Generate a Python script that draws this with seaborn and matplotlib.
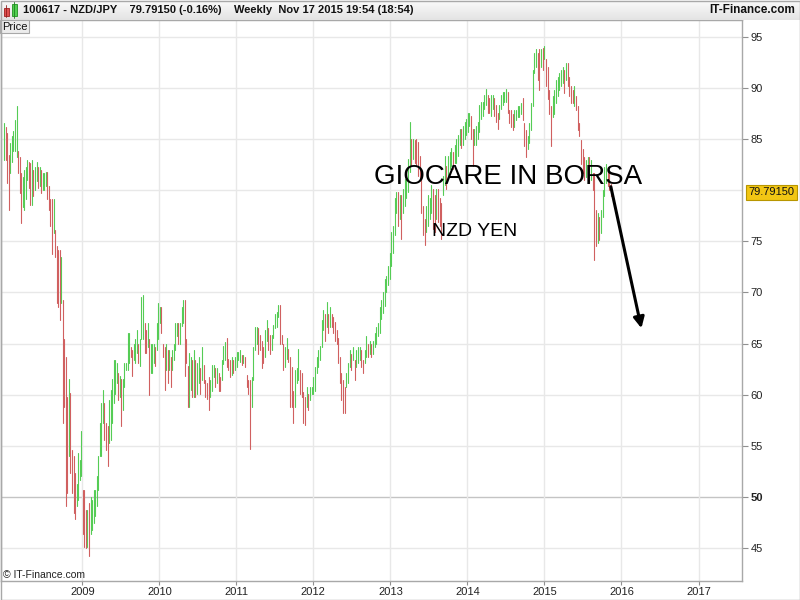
import numpy as np
import pandas as pd
import matplotlib
matplotlib.use("Agg")
import matplotlib.pyplot as plt
import matplotlib.dates as mdates
from matplotlib.patches import Rectangle
import seaborn as sns

# ---------------- data (weekly high / low) ----------------
HIGH_A = [86.6, 86.2, 85.6, 83.5, 84.6, 85.3, 85.8, 86.9, 88.2, 83.8,
          83.3, 81.7, 81.3, 82.0, 82.3, 83.0, 82.8, 82.7, 83.0, 82.0,
          82.3, 82.8, 82.3, 82.3, 82.0, 81.7, 81.7, 81.8, 81.8, 80.4,
          79.1, 79.1, 79.1, 76.1, 74.5, 74.2, 74.2, 73.5, 69.3, 65.4,
          63.7, 59.8, 61.5, 60.2, 54.6, 54.0, 52.3, 51.3, 54.3, 53.6,
          56.4, 50.7, 50.7, 48.7, 48.7, 49.4, 50.0, 49.7, 50.7, 50.7,
          52.0, 54.0, 57.2, 59.2, 60.5, 59.2, 57.2, 56.9, 59.5, 60.5,
          61.5, 63.4, 63.4, 63.1, 62.1, 61.8, 61.5, 61.5, 63.1, 63.1,
          66.0, 66.0, 64.7, 64.4, 65.0, 65.4, 66.3, 65.0, 65.4, 69.6,
          69.8, 67.0, 66.3, 67.0, 65.4, 65.0, 65.0, 65.0, 64.7, 67.0,
          69.0, 68.6, 68.6, 65.0, 64.7, 65.0, 64.4, 64.4, 63.7, 64.4,
          65.0, 67.0, 67.0, 67.0, 67.0, 68.6, 69.3, 69.3, 65.4, 62.8,
          64.1, 63.7, 63.4, 64.4, 63.4]
LOW_A = [83.0, 83.0, 80.7, 78.1, 81.7, 82.8, 83.8, 83.8, 83.3, 81.7,
         79.7, 76.8, 78.4, 78.1, 79.1, 81.0, 80.2, 78.6, 78.6, 79.4,
         80.0, 80.9, 80.2, 80.4, 79.7, 80.0, 80.0, 80.4, 79.1, 78.1,
         76.5, 73.8, 75.8, 73.5, 69.0, 68.6, 67.3, 69.0, 57.2, 58.8,
         49.1, 50.4, 54.0, 52.3, 50.4, 48.4, 47.8, 49.1, 49.7, 51.7,
         52.0, 46.4, 45.1, 45.0, 45.1, 44.2, 46.4, 46.8, 47.4, 48.1,
         49.1, 50.7, 54.0, 54.0, 57.2, 55.6, 54.6, 53.0, 55.3, 55.6,
         57.2, 59.2, 60.1, 61.1, 59.5, 59.8, 56.9, 58.5, 60.8, 62.4,
         62.4, 63.1, 63.7, 61.8, 63.4, 63.1, 64.1, 63.1, 62.8, 65.4,
         65.4, 64.1, 64.1, 64.7, 60.0, 62.1, 62.1, 63.1, 62.8, 64.4,
         65.4, 67.0, 66.0, 63.7, 60.5, 62.4, 61.1, 62.4, 60.8, 62.4,
         63.4, 64.4, 65.7, 65.0, 65.0, 66.7, 67.0, 61.8, 63.1, 58.8,
         58.8, 60.5, 59.8, 59.8, 59.8]

HIGH_B = [63.1, 63.7, 62.6, 64.7, 62.9, 61.4, 61.1, 61.7, 61.4, 62.9,
          62.9, 62.6, 62.6, 62.1, 61.7, 63.4, 64.8, 65.2, 65.5, 63.5,
          63.4, 63.7, 63.4, 63.7, 64.2, 64.2, 64.4, 63.9, 63.9, 63.7,
          61.9, 61.4, 61.4, 61.7, 64.7, 66.6, 66.6, 66.5, 65.8, 65.3,
          64.7, 66.3, 67.3, 66.5, 65.8, 65.8, 66.8, 67.9, 68.1, 68.8,
          68.8, 65.8, 65.0, 64.7, 65.5, 64.5, 63.7, 62.7, 60.4, 62.4,
          62.6, 64.5, 62.4, 62.1, 60.3, 59.8, 60.8, 60.1, 60.8, 60.8,
          61.7, 62.7, 63.7, 64.4, 64.8, 67.3, 68.3, 67.9, 69.1, 67.9,
          68.6, 67.9, 67.6, 67.1, 66.3, 65.5, 63.7, 62.1, 61.4, 60.8,
          62.1, 63.1, 64.4, 64.0, 64.7, 63.4, 64.4, 64.7, 64.7, 64.4,
          63.4, 64.4, 65.7, 65.0, 65.3, 65.0, 65.3, 66.0, 66.6, 67.0,
          68.6]
LOW_B = [60.1, 61.1, 60.1, 61.4, 61.1, 59.8, 59.6, 58.5, 59.8, 60.4,
         61.7, 60.8, 61.1, 60.4, 60.4, 61.4, 63.0, 63.4, 62.7, 62.4,
         61.7, 61.9, 62.1, 62.4, 62.7, 63.4, 63.2, 62.9, 63.1, 62.7,
         60.8, 60.1, 54.7, 58.8, 61.4, 64.4, 65.0, 64.0, 64.4, 62.6,
         63.1, 63.7, 65.3, 64.4, 64.0, 64.4, 65.5, 66.5, 66.6, 67.6,
         65.0, 65.0, 62.4, 62.7, 63.5, 63.2, 58.8, 58.8, 57.2, 58.8,
         61.1, 61.4, 60.1, 59.8, 57.2, 57.0, 58.8, 58.5, 59.5, 60.1,
         60.1, 60.4, 62.1, 62.7, 63.4, 64.7, 66.3, 65.3, 66.6, 66.0,
         66.6, 66.6, 66.0, 65.3, 65.0, 63.1, 61.1, 59.5, 58.2, 58.2,
         60.8, 61.1, 62.7, 62.4, 63.4, 61.4, 62.7, 63.1, 63.4, 62.7,
         62.1, 63.1, 63.7, 63.7, 64.0, 63.7, 64.0, 64.7, 65.0, 65.7,
         66.0]

HIGH_C = [69.3, 70.0, 71.3, 71.6, 72.6, 73.9, 75.9, 76.5, 79.2, 79.8,
          79.8, 79.5, 79.5, 80.1, 81.1, 81.8, 83.1, 86.7, 85.0, 85.0,
          84.9, 85.0, 84.7, 83.4, 81.8, 78.5, 77.2, 78.5, 79.5, 79.2,
          80.5, 80.1, 79.5, 80.1, 80.1, 79.2, 78.8, 81.4, 83.4, 82.4,
          83.4, 83.7, 84.1, 83.7, 84.4, 85.0, 85.4, 86.0, 86.0, 86.3,
          86.7, 87.0, 87.6, 87.6, 87.3, 86.0, 86.0, 86.3, 86.7, 88.3,
          88.6, 88.6, 89.3, 89.9, 89.3, 89.0, 89.3, 89.3, 89.0, 88.3,
          87.6, 88.3, 89.3, 89.6, 89.6, 89.9, 89.6]
LOW_C = [67.4, 68.0, 68.7, 70.0, 70.7, 71.3, 72.6, 73.9, 75.6, 77.8,
         76.5, 77.2, 75.2, 77.8, 78.5, 79.2, 79.8, 81.8, 82.4, 83.1,
         82.7, 82.4, 81.4, 81.1, 77.8, 75.6, 74.6, 75.9, 76.5, 77.2,
         77.8, 76.2, 75.9, 77.2, 76.9, 76.5, 75.2, 79.5, 80.5, 80.1,
         81.1, 82.1, 82.4, 82.1, 82.7, 82.7, 83.4, 84.4, 84.1, 84.4,
         85.0, 85.4, 85.7, 86.3, 85.0, 82.4, 84.4, 84.4, 85.0, 85.7,
         87.0, 87.3, 88.0, 88.3, 87.6, 87.6, 87.3, 88.0, 87.3, 86.7,
         86.0, 87.0, 88.0, 88.3, 88.6, 88.6, 87.6]

HIGH_D = [87.9, 87.9, 87.5, 87.9, 87.9, 88.2, 88.2, 88.5, 89.0, 86.6,
          85.9, 85.3, 86.6, 88.5, 91.8, 93.4, 93.8, 93.4, 93.8, 93.8,
          93.9, 94.1, 92.8, 92.1, 89.8, 88.2, 89.2, 89.8, 90.8, 91.1,
          91.5, 91.8, 92.1, 91.8, 92.5, 92.5, 91.1, 90.2, 89.8, 90.2,
          89.2, 88.2, 86.6, 84.9, 84.0, 83.3, 83.0, 83.3, 83.3, 83.0,
          81.7, 81.7, 78.1, 77.8, 77.4, 78.1, 80.0, 82.3, 82.6, 82.3,
          81.7, 80.6]
LOW_D = [86.6, 86.2, 85.9, 86.2, 86.9, 87.2, 87.2, 87.5, 86.9, 84.3,
         83.3, 84.0, 84.6, 85.9, 88.2, 91.5, 92.1, 90.8, 89.8, 92.1,
         91.8, 92.8, 90.2, 88.9, 87.5, 84.3, 87.2, 87.5, 88.5, 89.2,
         89.8, 90.2, 90.5, 89.5, 90.8, 90.2, 89.2, 88.5, 88.5, 88.2,
         87.9, 85.9, 85.3, 82.6, 81.7, 81.0, 81.3, 81.7, 80.7, 81.0,
         80.0, 73.2, 74.5, 74.8, 75.1, 75.8, 77.4, 79.4, 80.7, 80.4,
         80.0, 79.4]

SEGMENT_DATES = [("2007-12-27", "2010-06-21"),
                 ("2010-06-28", "2012-11-11"),
                 ("2012-11-19", "2014-07-11"),
                 ("2014-07-19", "2015-11-13")]

Y_TICKS = [45, 50, 55, 60, 65, 70, 75, 80, 85, 90, 95]
X_YEARS = [2009, 2010, 2011, 2012, 2013, 2014, 2015, 2016, 2017]
LAST_PRICE = 79.79150
HEADER = "100617 - NZD/JPY    79.79150 (-0.16%)    Weekly  Nov 17 2015 19:54 (18:54)"

# ---------------- build table ----------------
highs = [HIGH_A, HIGH_B, HIGH_C, HIGH_D]
lows = [LOW_A, LOW_B, LOW_C, LOW_D]
dates, hi_all, lo_all = [], [], []
for (s, e), h, l in zip(SEGMENT_DATES, highs, lows):
    dates.extend(pd.date_range(s, e, periods=len(h)))
    hi_all.extend(h)
    lo_all.extend(l)
hi_all = np.array(hi_all)
lo_all = np.array(lo_all)
mid = (hi_all + lo_all) / 2
direction = ["up"] + ["up" if mid[i] >= mid[i - 1] else "down" for i in range(1, len(mid))]

rows = []
for i, d in enumerate(dates):
    rows.append({"bar": i, "date": d, "price": lo_all[i], "dir": direction[i]})
    rows.append({"bar": i, "date": d, "price": hi_all[i], "dir": direction[i]})
df = pd.DataFrame(rows)

# ---------------- figure ----------------
sns.set_style("white")
plt.rcParams["font.family"] = ["Liberation Sans", "DejaVu Sans"]

W, H = 800, 600
fig = plt.figure(figsize=(8, 6), dpi=100)
fig.patch.set_facecolor("white")

ax = fig.add_axes([1 / W, (H - 581) / H, 741 / W, 561 / H])
ax.set_facecolor("white")

# grid
for yv in Y_TICKS:
    ax.axhline(yv, color="#c4c4c4" if yv == 50 else "#e8e8e8", lw=1.0, zorder=0)
for yr in X_YEARS:
    ax.axvline(mdates.date2num(pd.Timestamp(f"{yr}-01-01")), color="#e8e8e8", lw=1.0, zorder=0)

sns.lineplot(data=df, x="date", y="price", units="bar", estimator=None,
             hue="dir", palette={"up": "#55cc55", "down": "#d06060"},
             lw=0.8, legend=False, ax=ax, sort=False)

ax.set_xlim(mdates.date2num(pd.Timestamp("2007-12-12")), mdates.date2num(pd.Timestamp("2017-07-26")))
ax.set_ylim(41.77, 96.66)
ax.set_xlabel("")
ax.set_ylabel("")

# the 80 level is covered by the last-price label, as in the original
ax.yaxis.tick_right()
shown_ticks = [v for v in Y_TICKS if v != 80]
ax.set_yticks(shown_ticks)
ax.set_yticklabels([str(v) for v in shown_ticks])
for lab in ax.get_yticklabels():
    if lab.get_text() == "50":
        lab.set_fontweight("bold")
        lab.set_fontsize(9)
ax.set_xticks([mdates.date2num(pd.Timestamp(f"{yr}-01-01")) for yr in X_YEARS])
ax.set_xticklabels([str(y) for y in X_YEARS])
ax.tick_params(axis="y", which="both", right=True, left=False, length=4, width=0.8,
               color="#909090", labelsize=8, pad=2, labelcolor="#222222")
ax.tick_params(axis="x", which="both", bottom=True, length=3, width=0.8,
               color="#909090", labelsize=8, pad=1.5, labelcolor="#222222")
for sp in ax.spines.values():
    sp.set_color("#a8a8a8")
    sp.set_linewidth(1.0)

# last price label
ax.text(1.009, LAST_PRICE, "79.79150", transform=ax.get_yaxis_transform(),
        ha="left", va="center", fontsize=8, color="#111111",
        bbox=dict(boxstyle="square,pad=0.2", fc="#f2c614", ec="#b89600", lw=0.8),
        clip_on=False)

# annotations
ax.text(508 / W, (H - 177) / H, "GIOCARE IN BORSA", transform=fig.transFigure,
        ha="center", va="center", fontsize=20, color="black")
ax.text(475 / W, (H - 232) / H, "NZD YEN", transform=fig.transFigure,
        ha="center", va="center", fontsize=14, color="black")
ax.annotate("", xy=(mdates.date2num(pd.Timestamp("2016-04-05")), 66.5),
            xytext=(mdates.date2num(pd.Timestamp("2015-11-12")), 80.35),
            arrowprops=dict(arrowstyle="-|>", color="black", lw=2.2,
                            mutation_scale=16, shrinkA=0, shrinkB=0))

ax.text(3 / W, (H - 575) / H, "© IT-Finance.com", transform=fig.transFigure,
        ha="left", va="center", fontsize=7.5, color="#222222")

# header band with gradient
hax = fig.add_axes([0, (H - 20) / H, 1, 20 / H])
grad = np.linspace(0.98, 0.89, 50).reshape(-1, 1)
hax.imshow(np.repeat(grad, 2, axis=1), aspect="auto", cmap="gray", vmin=0, vmax=1,
           extent=[0, 1, 0, 1])
hax.set_xlim(0, 1)
hax.set_ylim(0, 1)
hax.axis("off")
hax.plot([6 / W, 6 / W], [0.15, 0.75], color="#902020", lw=0.6)
hax.add_patch(Rectangle((3.5 / W, 0.2), 5 / W, 0.4, fc="#e05050", ec="#a02020", lw=0.6))
hax.plot([14 / W, 14 / W], [0.1, 0.95], color="#208020", lw=0.6)
hax.add_patch(Rectangle((11.5 / W, 0.2), 5 / W, 0.6, fc="#50d050", ec="#209020", lw=0.6))
hax.text(23 / W, 0.5, HEADER, ha="left", va="center", fontsize=8, fontweight="bold",
         color="#111111")
hax.text(795 / W, 0.5, "IT-Finance.com", ha="right", va="center", fontsize=8.5,
         fontweight="bold", color="#111111")

# "Price" box
fig.patches.append(Rectangle((0, (H - 33) / H), 29 / W, 13 / H, transform=fig.transFigure,
                             fc="#ececec", ec="#a8a8a8", lw=0.8, zorder=5))
fig.text(2 / W, (H - 27) / H, "Price", ha="left", va="center", fontsize=8, color="#111111", zorder=6)

# outer frame
fig.patches.append(Rectangle((0.5 / W, 0.5 / H), 1 - 1 / W, 1 - 1 / H, transform=fig.transFigure,
                             fill=False, ec="#a8a8a8", lw=1.0, zorder=10))

fig.savefig("out.png", dpi=100)
